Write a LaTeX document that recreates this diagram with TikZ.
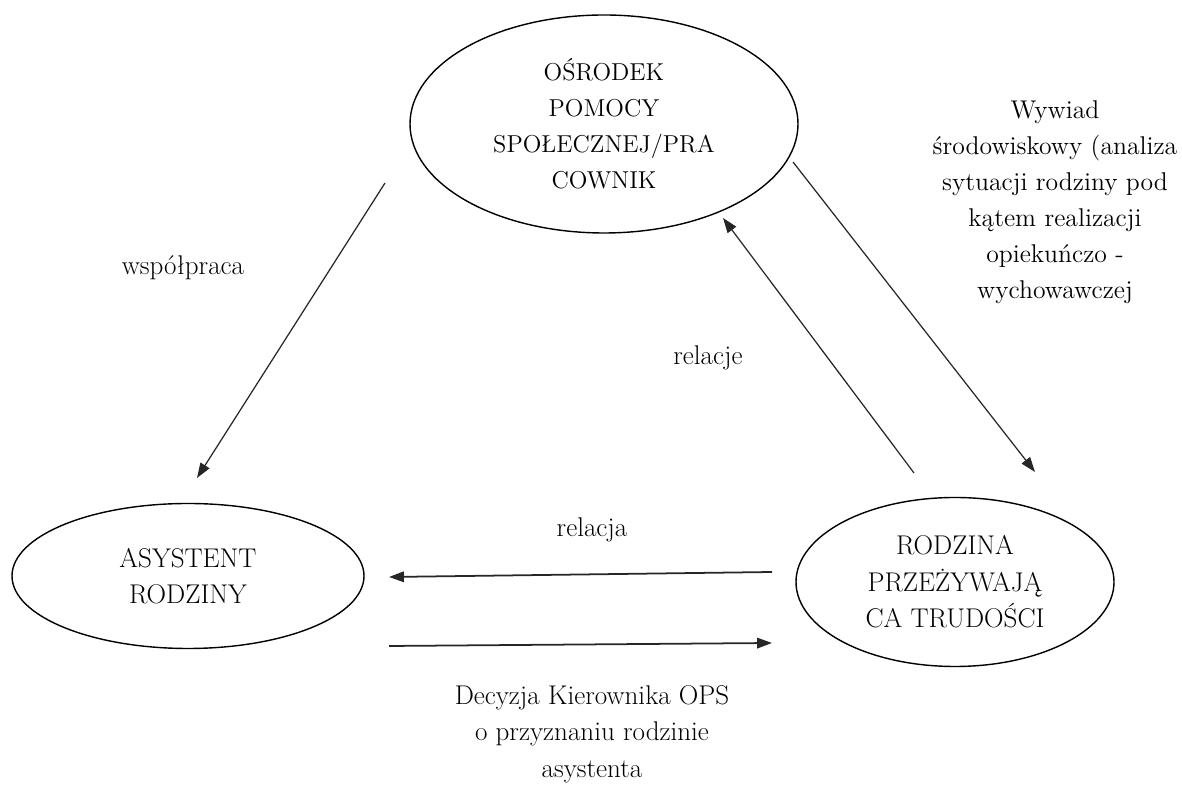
\documentclass[tikz,border=0pt]{standalone}
\usepackage{fontspec}
\usepackage{tikz}
\usetikzlibrary{shapes.geometric,arrows.meta,positioning,calc}

\begin{document}
\begin{tikzpicture}[
    unit/.style={ellipse, draw, line width=0.8pt, inner sep=0pt, align=center},
    lbl/.style={align=center, font=\rmfamily\fontsize{15.4}{20.8}\selectfont},
    small/.style={font=\rmfamily\fontsize{13.9}{20.5}\selectfont},
    wide/.style={font=\rmfamily\fontsize{14.6}{20.5}\selectfont},
    arrow/.style={-{Triangle[length=8.5pt,width=6pt]}, line width=0.7pt, draw=black!85},
    harrow/.style={arrow, line width=1pt}
]
    \useasboundingbox (0,0) rectangle (23.64,15.74);

    \node[unit, lbl, small, minimum width=7.76cm, minimum height=4.36cm] (ops) at (12.08,13.26)
        {OŚRODEK\\POMOCY\\SPOŁECZNEJ/PRA\\COWNIK};
    \node[unit, lbl, minimum width=7.04cm, minimum height=2.9cm] (asystent) at (3.76,4.22)
        {ASYSTENT\\RODZINY};
    \node[unit, lbl, minimum width=6.36cm, minimum height=3.38cm] (rodzina) at (19.10,4.10)
        {RODZINA\\PRZEŻYWAJĄ\\CA TRUDOŚCI};

    % free ends of the connectors
    \coordinate (wsp1) at (7.70,12.08);
    \coordinate (wsp2) at (3.94,6.18);
    \coordinate (rel1) at (18.28,6.28);
    \coordinate (rel2) at (14.46,11.38);
    \coordinate (wyw1) at (15.86,12.50);
    \coordinate (wyw2) at (20.70,6.30);
    \coordinate (top1) at (15.44,4.30);
    \coordinate (top2) at (7.78,4.20);
    \coordinate (bot1) at (7.78,2.82);
    \coordinate (bot2) at (15.44,2.88);

    \draw[arrow] (wsp1) -- (wsp2);
    \draw[arrow] (rel1) -- (rel2);
    \draw[arrow] (wyw1) -- (wyw2);
    \draw[harrow] (top1) -- (top2);
    \draw[harrow] (bot1) -- (bot2);

    \node[lbl] (wsplbl) at (3.66,10.38) {współpraca};
    \node[lbl] (rellbl) at (14.16,8.58) {relacje};
    \node[lbl] (relalbl) at (11.84,5.14) {relacja};
    \node[lbl, wide] (wywlbl) at (21.10,11.70)
        {Wywiad\\środowiskowy (analiza\\sytuacji rodziny pod\\kątem realizacji\\opiekuńczo -\\wychowawczej};
    \node[lbl] (declbl) at (11.84,1.06)
        {Decyzja Kierownika OPS\\o przyznaniu rodzinie\\asystenta};
\end{tikzpicture}
\end{document}
